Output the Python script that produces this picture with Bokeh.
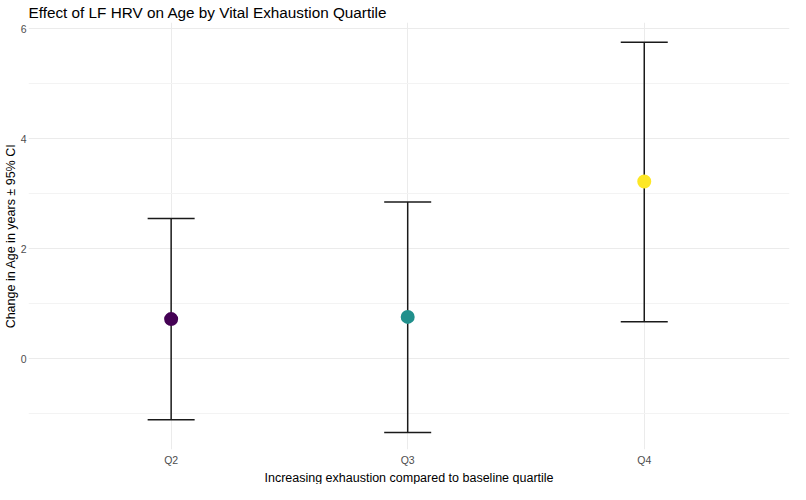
from bokeh.plotting import figure
from bokeh.models import ColumnDataSource, Range1d, FixedTicker, Whisker, TeeHead, Title
from bokeh.embed import file_html
from bokeh.resources import INLINE

quartiles = ["Q2", "Q3", "Q4"]
estimate = [0.72, 0.76, 3.22]
lower_ci = [-1.11, -1.34, 0.67]
upper_ci = [2.55, 2.85, 5.75]
colors = ["#440154", "#21908C", "#FDE725"]
xpos = [1, 2, 3]

src = ColumnDataSource(dict(x=xpos, est=estimate, lo=lower_ci, hi=upper_ci, c=colors, q=quartiles))

FONT = "Liberation Sans"

p = figure(width=790, height=484, output_backend="svg", toolbar_location=None,
           x_range=Range1d(0.397, 3.614), y_range=Range1d(-1.650, 6.111),
           min_border_left=0, min_border_right=1, min_border_top=0, min_border_bottom=0)
p.outline_line_color = None
p.background_fill_color = "white"
p.border_fill_color = "white"

p.title.text = "Effect of LF HRV on Age by Vital Exhaustion Quartile"
p.title.text_font = FONT
p.title.text_font_size = "15.3px"
p.title.text_font_style = "normal"
p.title.text_color = "#000000"
p.title.standoff = 3
p.title.offset = 0

p.xaxis.ticker = FixedTicker(ticks=xpos)
p.xaxis.major_label_overrides = {x: q for x, q in zip(xpos, quartiles)}
p.yaxis.ticker = FixedTicker(ticks=[0, 2, 4, 6], minor_ticks=[-1, 1, 3, 5])

for ax in (p.xaxis[0], p.yaxis[0]):
    ax.axis_line_color = None
    ax.major_tick_line_color = None
    ax.minor_tick_line_color = None
    ax.major_tick_out = 0
    ax.minor_tick_out = 0
    ax.major_label_text_font = FONT
    ax.major_label_text_font_size = "10.5px"
    ax.major_label_text_color = "#4D4D4D"
    ax.axis_label_text_font = FONT
    ax.axis_label_text_font_style = "normal"
    ax.axis_label_text_color = "#000000"
    ax.major_label_standoff = 2
    ax.axis_label_standoff = 0

p.yaxis.axis_label_text_font_size = "12.5px"
p.yaxis.axis_label = "Change in Age in years \u00b1 95% CI"
p.xaxis.major_label_standoff = 4

xtitle = Title(text="Increasing exhaustion compared to baseline quartile", align="center",
               text_font=FONT, text_font_size="12.5px", text_font_style="normal",
               text_color="#000000", standoff=0)
p.add_layout(xtitle, "below")

p.xgrid.ticker = FixedTicker(ticks=xpos)
p.xgrid.grid_line_color = "#EBEBEB"
p.xgrid.grid_line_width = 1
p.ygrid.grid_line_color = "#EBEBEB"
p.ygrid.grid_line_width = 1
p.ygrid.minor_grid_line_color = "#F3F3F3"
p.ygrid.minor_grid_line_width = 1

w = Whisker(base="x", lower="lo", upper="hi", source=src, dimension="height",
            line_color="#1A1A1A", line_width=1.5,
            lower_head=TeeHead(size=47, line_color="#1A1A1A", line_width=1.5),
            upper_head=TeeHead(size=47, line_color="#1A1A1A", line_width=1.5))
p.add_layout(w)

p.scatter("x", "est", source=src, size=14, fill_color="c", line_color="c", line_width=0)

open("out.html", "w").write(file_html(p, INLINE))
